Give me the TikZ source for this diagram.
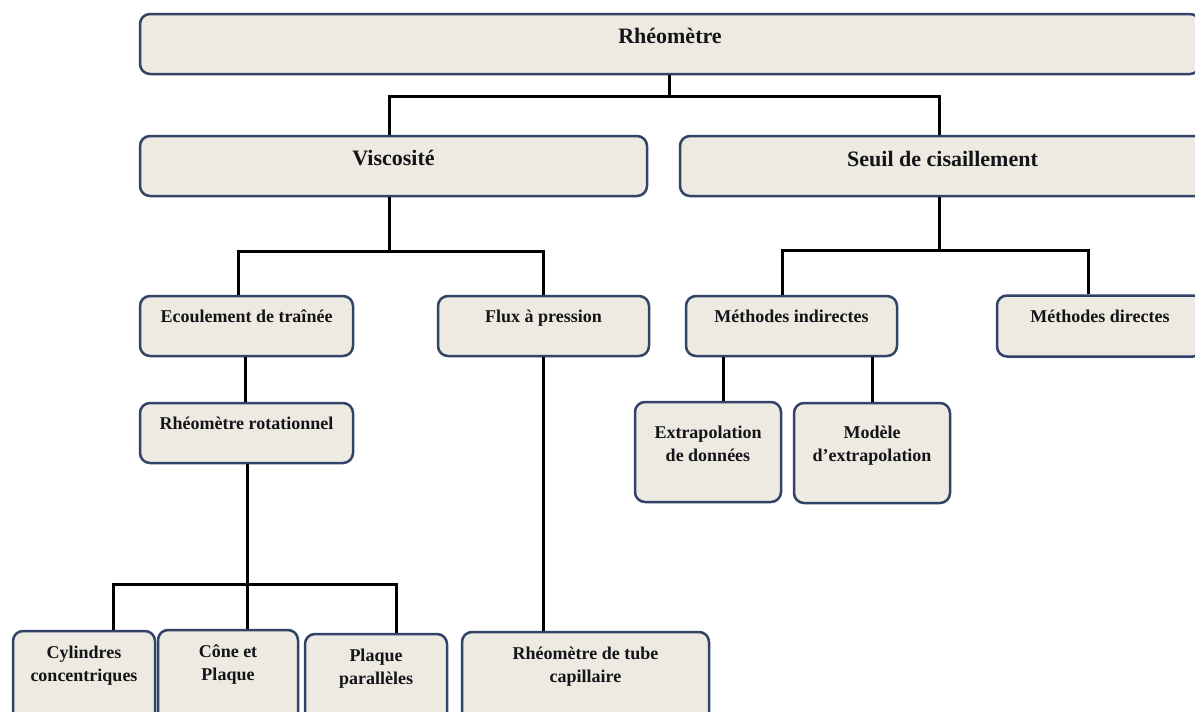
\documentclass[tikz,border=0pt]{standalone}
\usepackage{fontspec}
\setmainfont{Liberation Serif}
\definecolor{boxline}{RGB}{50,66,105}
\definecolor{boxfill}{RGB}{237,234,225}
\definecolor{txt}{RGB}{20,20,25}
\begin{document}
\begin{tikzpicture}[x=1pt,y=-1pt,
  box/.style={draw=boxline, fill=boxfill, line width=2.5pt, rounded corners=10pt, inner sep=0pt},
  conn/.style={draw=black, line width=3pt},
  lbl/.style={font=\fontsize{22}{26}\selectfont\bfseries, text=txt, inner sep=0pt, anchor=base},
  sml/.style={font=\fontsize{18}{23}\selectfont\bfseries, text=txt, inner sep=0pt, anchor=base},
  two/.style={font=\fontsize{18}{23}\selectfont\bfseries, text=txt, inner sep=0pt, align=center, anchor=center},
]
\useasboundingbox (0,0) rectangle (1195,712);
\clip (0,0) rectangle (1195,712);

% boxes
\node[box, minimum width=1060pt, minimum height=60pt] (rheo) at (670,44) {};
\node[box, minimum width=507pt, minimum height=60pt] (visc) at (393.5,166) {};
\node[box, minimum width=525pt, minimum height=60pt] (seuil) at (942.5,166) {};
\node[box, minimum width=213pt, minimum height=60pt] (ecoul) at (246.5,326) {};
\node[box, minimum width=211pt, minimum height=60pt] (flux) at (543.5,326) {};
\node[box, minimum width=211pt, minimum height=60pt] (mind) at (791.5,326) {};
\node[box, minimum width=206pt, minimum height=61pt] (mdir) at (1100,326) {};
\node[box, minimum width=213pt, minimum height=60pt] (rot) at (246.5,433) {};
\node[box, minimum width=146pt, minimum height=100pt] (extra) at (708,452) {};
\node[box, minimum width=156pt, minimum height=100pt] (mod) at (872,453) {};
\node[box, minimum width=142pt, minimum height=98pt] (cyl) at (84,680) {};
\node[box, minimum width=140pt, minimum height=98pt] (cone) at (228,679) {};
\node[box, minimum width=142pt, minimum height=98pt] (plaq) at (376,683) {};
\node[box, minimum width=247pt, minimum height=98pt] (tube) at (585.5,681) {};

% texts
\node[lbl] (rheoT) at (670,43) {Rhéomètre};
\node[lbl] (viscT) at (393.5,165) {Viscosité};
\node[lbl] (seuilT) at (942.5,166) {Seuil de cisaillement};
\node[sml] (ecoulT) at (246.5,322) {Ecoulement de traînée};
\node[sml] (fluxT) at (543.5,322) {Flux à pression};
\node[sml] (mindT) at (791.5,322) {Méthodes indirectes};
\node[sml] (mdirT) at (1100,322) {Méthodes directes};
\node[sml] (rotT) at (246.5,429) {Rhéomètre rotationnel};
\node[two] (extraT) at (708,443.5) {Extrapolation\\de données};
\node[two] (modT) at (872,445.5) {Modèle\\d’extrapolation};
\node[two] (cylT) at (84,666) {Cylindres\\concentriques};
\node[two] (coneT) at (228,665) {Cône et\\Plaque};
\node[two] (plaqT) at (376,669) {Plaque\\parallèles};
\node[two] (tubeT) at (585.5,666.5) {Rhéomètre de tube\\capillaire};

% junction points and drop positions
\coordinate (j1) at (669,96);
\coordinate (xv) at (389,0);
\coordinate (xs) at (939,0);
\coordinate (j2) at (389,251);
\coordinate (xe) at (238,0);
\coordinate (xf) at (543,0);
\coordinate (j3) at (939,250);
\coordinate (xm) at (782,0);
\coordinate (xd) at (1088,0);
\coordinate (xer) at (245,0);
\coordinate (j4) at (247,584);
\coordinate (xc) at (113,0);
\coordinate (xp) at (396,0);
\coordinate (xx) at (723,0);
\coordinate (xo) at (872,0);

% connectors
\draw[conn] (rheo.south -| j1) -- (j1);
\draw[conn] (visc.north -| xv) |- (j1) -| (seuil.north -| xs);
\draw[conn] (visc.south -| xv) -- (j2);
\draw[conn] (ecoul.north -| xe) |- (j2) -| (flux.north -| xf);
\draw[conn] (seuil.south -| xs) -- (j3);
\draw[conn] (mind.north -| xm) |- (j3) -| (mdir.north -| xd);
\draw[conn] (ecoul.south -| xer) -- (rot.north -| xer);
\draw[conn] (rot.south -| j4) -- (j4);
\draw[conn] (cyl.north -| xc) |- (j4) -| (plaq.north -| xp);
\draw[conn] (cone.north -| j4) -- (j4);
\draw[conn] (flux.south -| xf) -- (tube.north -| xf);
\draw[conn] (mind.south -| xx) -- (extra.north -| xx);
\draw[conn] (mind.south -| xo) -- (mod.north -| xo);
\end{tikzpicture}
\end{document}
